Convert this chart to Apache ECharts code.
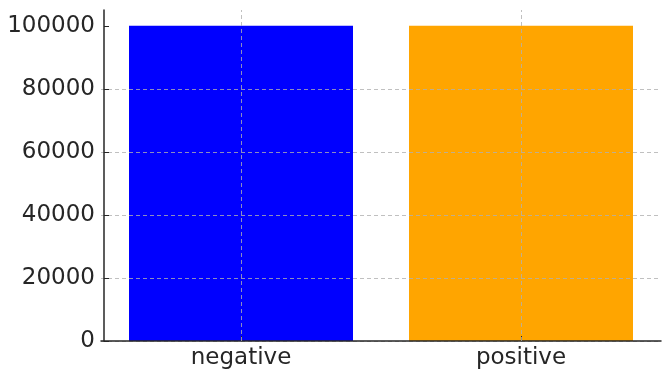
<!DOCTYPE html>
<html>
<head>
<meta charset="utf-8">
<script src="https://cdn.jsdelivr.net/npm/echarts@6/dist/echarts.min.js"></script>
<style>html,body{margin:0;padding:0;background:#fff}#c{width:664px;height:374px}</style>
</head>
<body>
<div id="c"></div>
<script>
const categories = ['negative', 'positive'];
const values = [100000, 100000];
const barColors = ['#0000ff', '#ffa500'];
const yTicks = [0, 20000, 40000, 60000, 80000, 100000];

const chart = echarts.init(document.getElementById('c'), null, {renderer: 'canvas'});
const gridStyle = {color: '#b0b0b0', type: [4, 3], width: 0.8};
chart.setOption({
  animation: false,
  grid: {left: 101, right: 3, top: 10, bottom: 33, containLabel: false},
  xAxis: {
    type: 'category',
    data: categories,
    zlevel: 1,
    axisLine: {show: true, lineStyle: {color: '#262626', width: 1.5}},
    axisTick: {show: true, inside: true, alignWithLabel: true, length: 5, lineStyle: {color: '#262626'}},
    axisLabel: {color: '#262626', fontSize: 23, fontFamily: 'DejaVu Sans', margin: 6},
    splitLine: {show: false}
  },
  yAxis: {
    type: 'value',
    min: 0,
    max: 105000,
    interval: 20000,
    offset: -3,
    zlevel: 1,
    axisLine: {show: true, lineStyle: {color: '#262626', width: 1.5}},
    axisTick: {show: true, inside: true, length: 5, lineStyle: {color: '#262626'}, customValues: yTicks},
    axisLabel: {color: '#262626', fontSize: 23, fontFamily: 'DejaVu Sans', margin: 9, customValues: yTicks,
      formatter: v => String(v)},
    splitLine: {show: true, showMaxLine: false, lineStyle: gridStyle}
  },
  series: [{
    type: 'bar',
    barCategoryGap: '20%',
    data: values.map((v, i) => ({value: v, itemStyle: {color: barColors[i]}})),
    markLine: {
      silent: true,
      zlevel: 1,
      symbol: ['none', 'none'],
      label: {show: false},
      lineStyle: gridStyle,
      data: categories.map(c => ({xAxis: c}))
    }
  }]
});
</script>
</body>
</html>
